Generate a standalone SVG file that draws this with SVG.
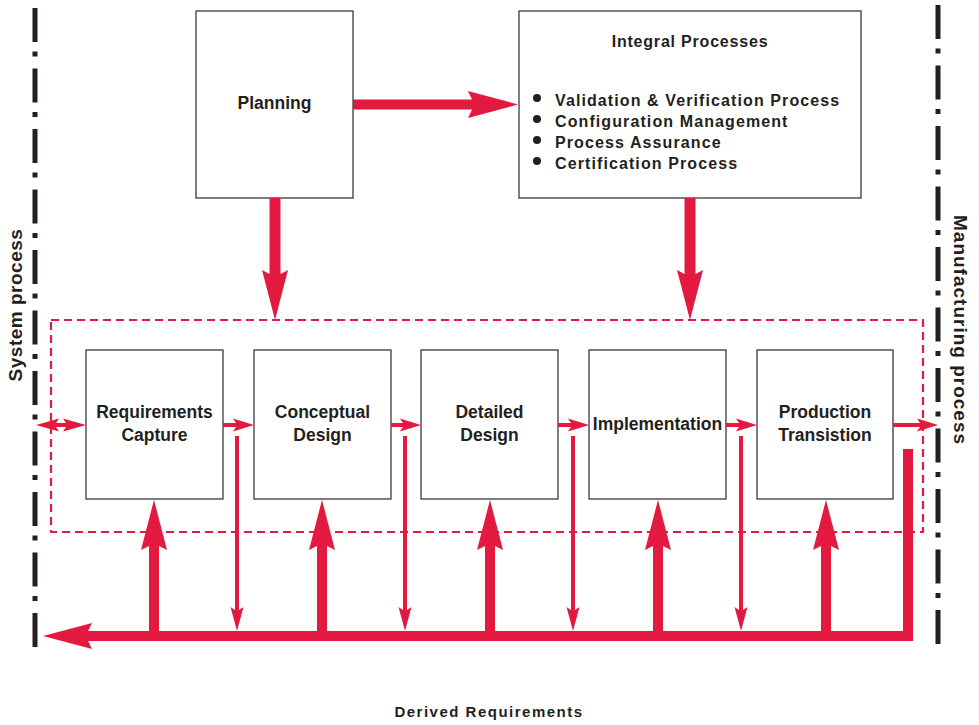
<svg xmlns="http://www.w3.org/2000/svg" width="979" height="725" viewBox="0 0 979 725">
  <style>
    .box { fill: #ffffff; stroke: #3a3a3a; stroke-width: 1.3; }
    .lbl { font-family: "Liberation Sans", Arial, sans-serif; font-weight: bold; fill: #231f20; }
    .bl { font-size: 17.5px; }
    .red { fill: #e4193f; stroke: none; }
    .dashdot { fill: none; stroke: #231f20; stroke-width: 5; stroke-dasharray: 34 9.5 5 12; }
    .dashbox { fill: none; stroke: #e4193f; stroke-width: 2.2; stroke-dasharray: 8 5; }
  </style>
  <rect x="0" y="0" width="979" height="725" fill="#ffffff"/>

  <g id="boundaries">
    <line class="dashdot" x1="35" y1="8" x2="35" y2="648"/>
    <line class="dashdot" x1="938" y1="5" x2="938" y2="645"/>
    <text class="lbl" font-size="19" letter-spacing="0.5" text-anchor="middle" transform="translate(22,305) rotate(-90)">System process</text>
    <text class="lbl" font-size="19" letter-spacing="1" text-anchor="middle" transform="translate(954,330) rotate(90)">Manufacturing process</text>
  </g>

  <g id="development-group">
    <rect class="dashbox" x="51" y="320" width="872" height="212"/>
  </g>

  <g id="planning">
    <rect class="box" x="196" y="11" width="157" height="187"/>
    <text class="lbl bl" x="274.5" y="109" text-anchor="middle">Planning</text>
  </g>

  <g id="integral-processes">
    <rect class="box" x="519" y="11" width="342" height="187"/>
    <text class="lbl" font-size="16" letter-spacing="0.8" x="690" y="47" text-anchor="middle">Integral Processes</text>
    <circle cx="537" cy="98" r="4" fill="#231f20"/>
    <circle cx="537" cy="119" r="4" fill="#231f20"/>
    <circle cx="537" cy="140" r="4" fill="#231f20"/>
    <circle cx="537" cy="161" r="4" fill="#231f20"/>
    <text class="lbl" font-size="16" letter-spacing="1.1" x="555" y="106">Validation &amp; Verification Process</text>
    <text class="lbl" font-size="16" letter-spacing="1.1" x="555" y="127">Configuration Management</text>
    <text class="lbl" font-size="16" letter-spacing="1.1" x="555" y="148">Process Assurance</text>
    <text class="lbl" font-size="16" letter-spacing="1.1" x="555" y="169">Certification Process</text>
  </g>

  <g id="requirements-capture">
    <rect class="box" x="86" y="350" width="137" height="149"/>
    <text class="lbl bl" x="154.5" y="418" text-anchor="middle">Requirements</text>
    <text class="lbl bl" x="154.5" y="441" text-anchor="middle">Capture</text>
  </g>
  <g id="conceptual-design">
    <rect class="box" x="254" y="350" width="137" height="149"/>
    <text class="lbl bl" x="322.5" y="418" text-anchor="middle">Conceptual</text>
    <text class="lbl bl" x="322.5" y="441" text-anchor="middle">Design</text>
  </g>
  <g id="detailed-design">
    <rect class="box" x="421" y="350" width="137" height="149"/>
    <text class="lbl bl" x="489.5" y="418" text-anchor="middle">Detailed</text>
    <text class="lbl bl" x="489.5" y="441" text-anchor="middle">Design</text>
  </g>
  <g id="implementation">
    <rect class="box" x="589" y="350" width="137" height="149"/>
    <text class="lbl bl" x="657.5" y="430" text-anchor="middle">Implementation</text>
  </g>
  <g id="production-transistion">
    <rect class="box" x="757" y="350" width="136" height="149"/>
    <text class="lbl bl" x="825" y="418" text-anchor="middle">Production</text>
    <text class="lbl bl" x="825" y="441" text-anchor="middle">Transistion</text>
  </g>

  <g id="connectors">
    <path class="red" d="M353,99.5 H472 L468,91 L518,104.5 L468,118 L472,109.5 H353 Z"/>
    <path class="red" d="M269.5,198 V274 L262,270 L275,320 L288,270 L280.5,274 V198 Z"/>
    <path class="red" d="M684.5,198 V274 L677,270 L690,320 L703,270 L695.5,274 V198 Z"/>
    <path class="red" d="M36,425 L59,418.5 L56,423 H66 L63,418.5 L86,425 L63,431.5 L66,427 H56 L59,431.5 Z"/>
    <path class="red" d="M223,423 H236 L233,418.5 L254,425 L233,431.5 L236,427 H223 Z"/>
    <path class="red" d="M391,423 H403 L400,418.5 L421,425 L400,431.5 L403,427 H391 Z"/>
    <path class="red" d="M558,423 H571 L568,418.5 L589,425 L568,431.5 L571,427 H558 Z"/>
    <path class="red" d="M726,423 H739 L736,418.5 L757,425 L736,431.5 L739,427 H726 Z"/>
    <path class="red" d="M893,423 H920 L917,418.5 L938,425 L917,431.5 L920,427 H893 Z"/>
    <path class="red" d="M235,436 V610 L230.5,607 L237,631 L243.5,607 L239,610 V436 Z"/>
    <path class="red" d="M403,436 V610 L398.5,607 L405,631 L411.5,607 L407,610 V436 Z"/>
    <path class="red" d="M571,436 V610 L566.5,607 L573,631 L579.5,607 L575,610 V436 Z"/>
    <path class="red" d="M739,436 V610 L734.5,607 L741,631 L747.5,607 L743,610 V436 Z"/>
    <path class="red" d="M149,636 V546 L141,550 L154,500 L167,550 L159,546 V636 Z"/>
    <path class="red" d="M317,636 V546 L309,550 L322,500 L335,550 L327,546 V636 Z"/>
    <path class="red" d="M485,636 V546 L477,550 L490,500 L503,550 L495,546 V636 Z"/>
    <path class="red" d="M653,636 V546 L645,550 L658,500 L671,550 L663,546 V636 Z"/>
    <path class="red" d="M821,636 V546 L813,550 L826,500 L839,550 L831,546 V636 Z"/>
    <path class="red" d="M913,449 V641 H88 L92,649 L43,636 L92,623 L88,631 H903 V449 Z"/>
  </g>

  <g id="derived-requirements">
    <text class="lbl" font-size="15" letter-spacing="1.5" x="489" y="717" text-anchor="middle">Derived Requirements</text>
  </g>
</svg>
